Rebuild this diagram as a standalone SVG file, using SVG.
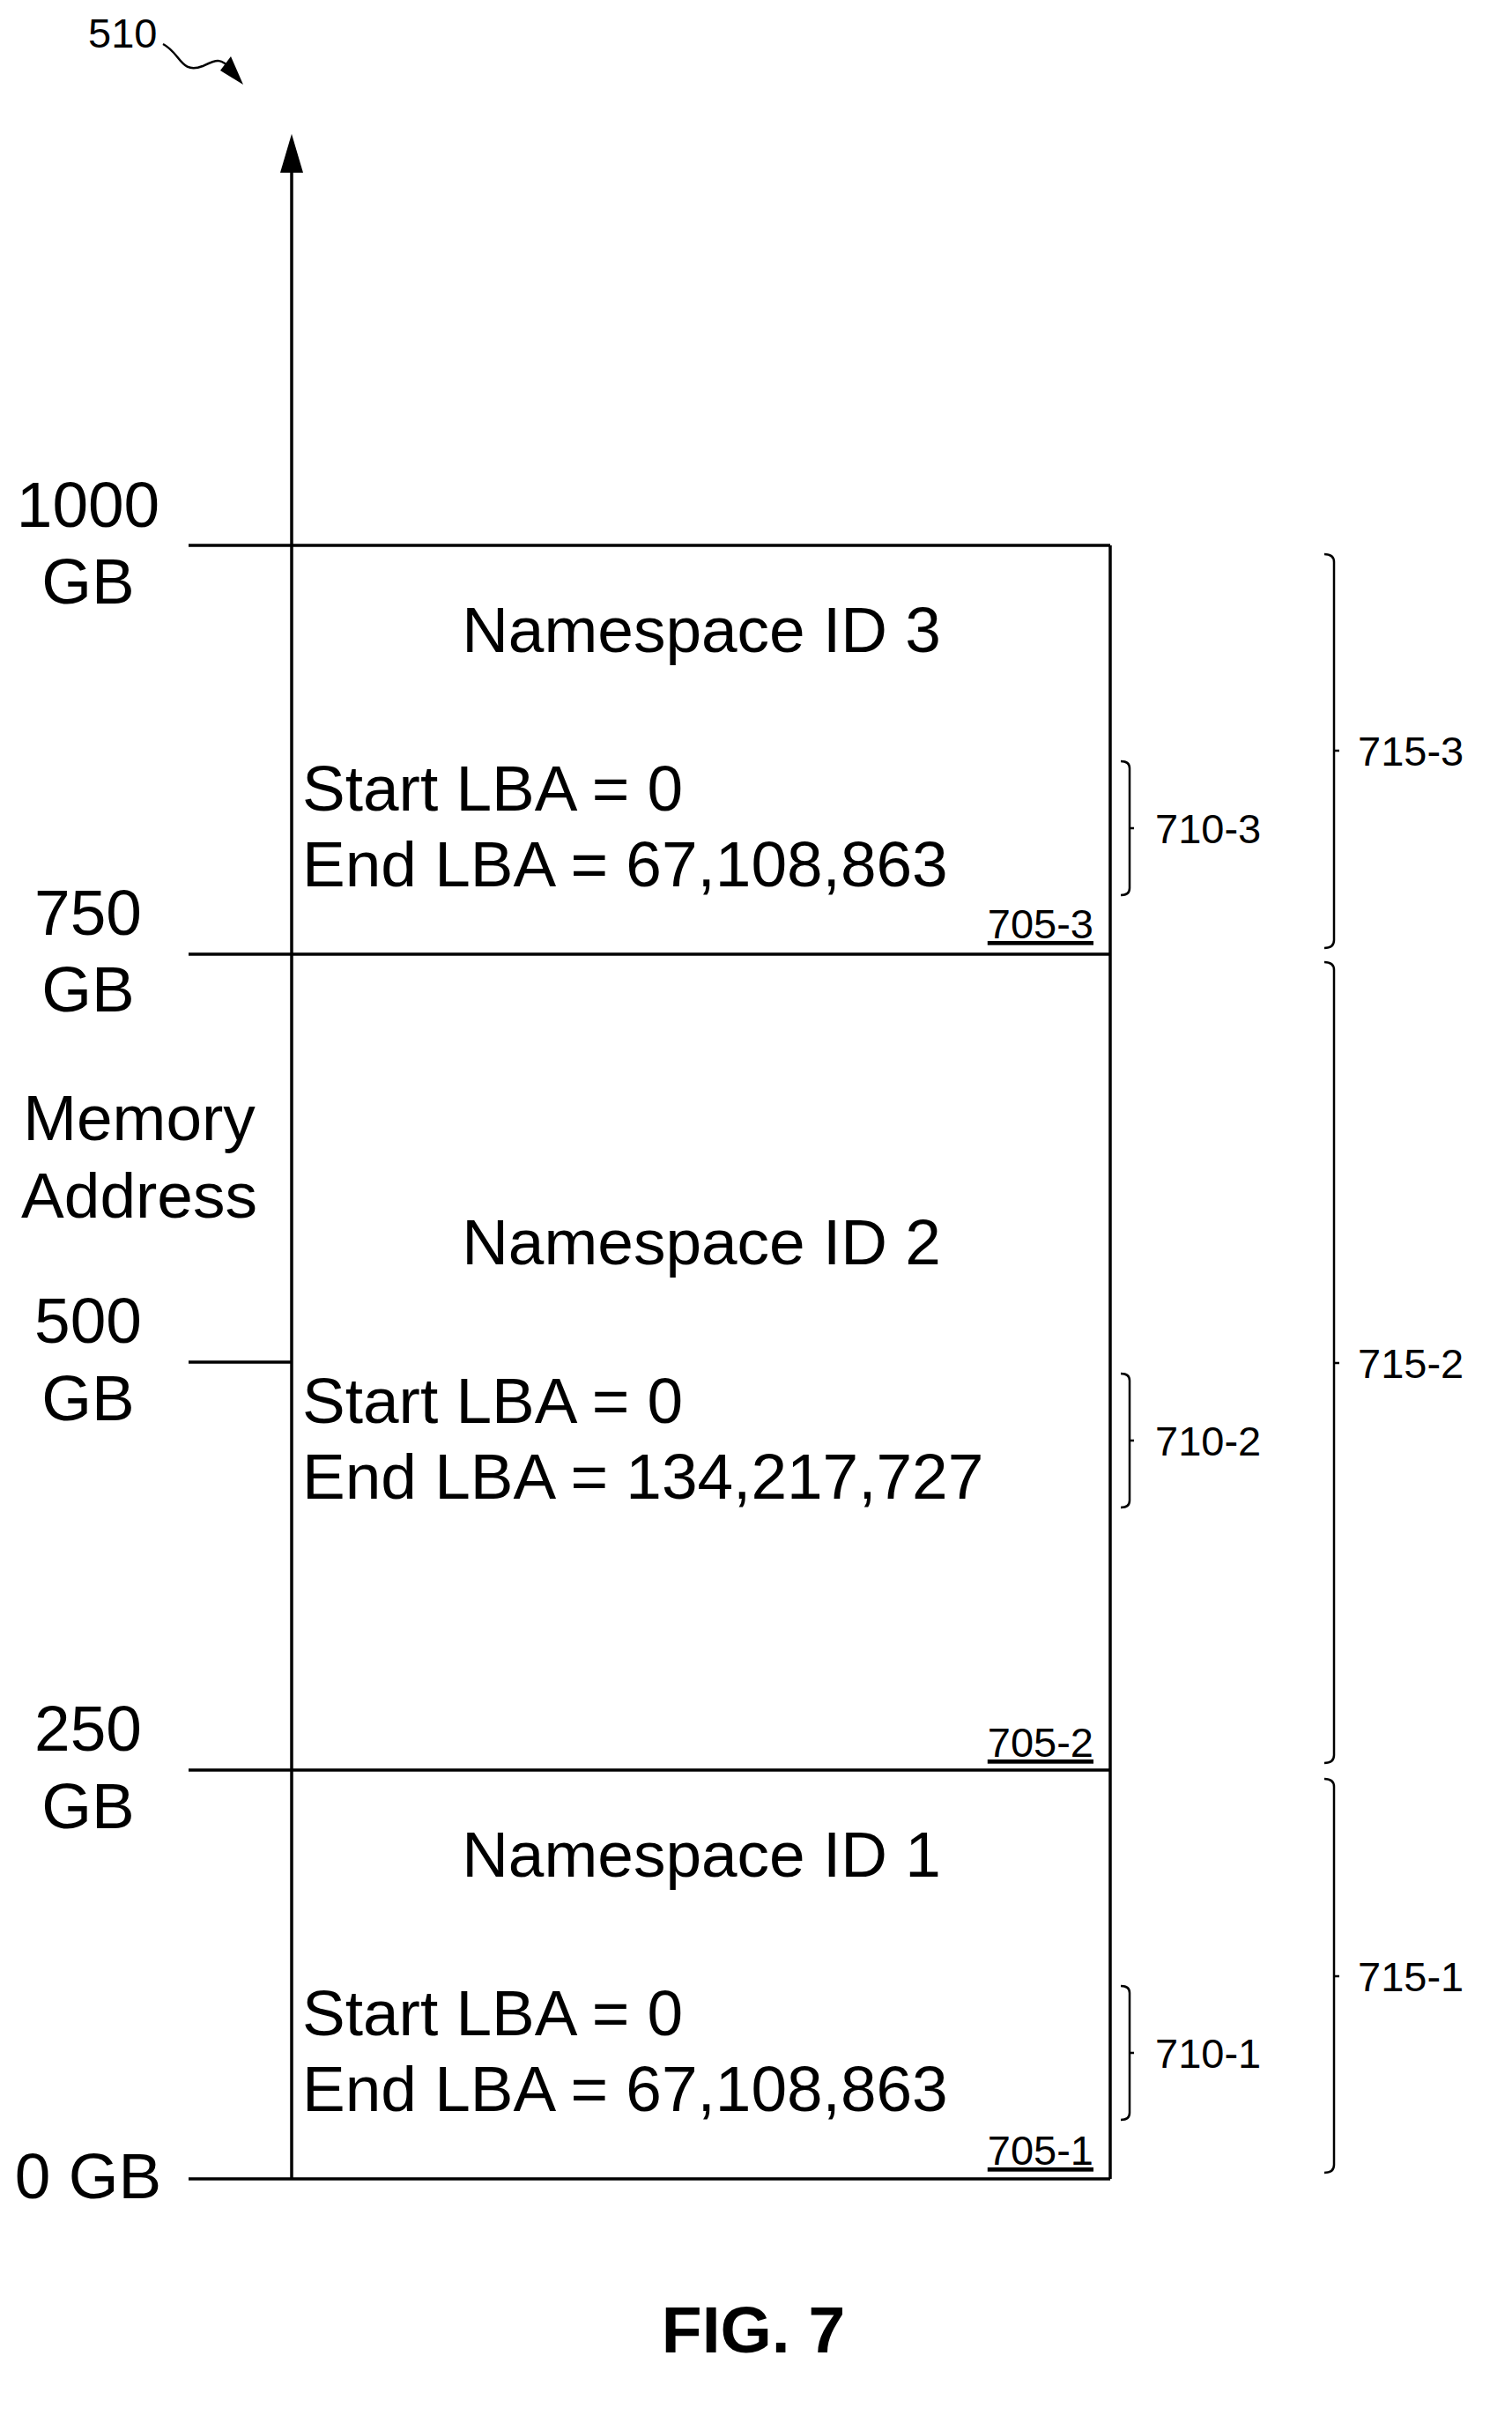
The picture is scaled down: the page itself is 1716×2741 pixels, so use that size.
<svg xmlns="http://www.w3.org/2000/svg" width="1716" height="2741" viewBox="0 0 1716 2741">
<defs>
<style>
text{font-family:"Liberation Sans",Arial,sans-serif;fill:#000}
.big{font-size:73px}
.sm{font-size:47px}
.ln{stroke:#000;stroke-width:3.5;fill:none}
.br{stroke:#000;stroke-width:2.5;fill:none}
</style>
</defs>
<rect width="1716" height="2741" fill="#fff"/>
<g id="ref510">
<text class="sm" x="100" y="54">510</text>
<path class="br" d="M185,50 C205,60 205,85 230,75 C245,68 250,65 262,78"/>
<path d="M262,64 L276,96 L250,80 Z" fill="#000"/>
</g>
<g id="connectors">
<line class="ln" x1="331" y1="2473" x2="331" y2="190"/>
<path d="M318,196 L331,152 L344,196 Z" fill="#000"/>
<line class="ln" x1="214" y1="619" x2="1260" y2="619"/>
<line class="ln" x1="214" y1="1083" x2="1260" y2="1083"/>
<line class="ln" x1="214" y1="1546" x2="331" y2="1546"/>
<line class="ln" x1="214" y1="2009" x2="1260" y2="2009"/>
<line class="ln" x1="214" y1="2473" x2="1260" y2="2473"/>
<line class="ln" x1="1260" y1="619" x2="1260" y2="2473"/>
</g>
<g id="axis-labels" text-anchor="middle">
<text class="big" x="100" y="598">1000</text><text class="big" x="100" y="685">GB</text>
<text class="big" x="100" y="1061">750</text><text class="big" x="100" y="1148">GB</text>
<text class="big" x="158" y="1294">Memory</text><text class="big" x="158" y="1382">Address</text>
<text class="big" x="100" y="1524">500</text><text class="big" x="100" y="1612">GB</text>
<text class="big" x="100" y="1987">250</text><text class="big" x="100" y="2075">GB</text>
<text class="big" x="100" y="2495">0 GB</text>
</g>
<g id="ns3">
<text class="big" x="796" y="740" text-anchor="middle">Namespace ID 3</text>
<text class="big" x="343" y="920">Start LBA = 0</text>
<text class="big" x="343" y="1006">End LBA = 67,108,863</text>
<text class="sm" x="1241" y="1065" text-anchor="end" text-decoration="underline">705-3</text>
</g>
<g id="ns2">
<text class="big" x="796" y="1435" text-anchor="middle">Namespace ID 2</text>
<text class="big" x="343" y="1615">Start LBA = 0</text>
<text class="big" x="343" y="1701">End LBA = 134,217,727</text>
<text class="sm" x="1241" y="1994" text-anchor="end" text-decoration="underline">705-2</text>
</g>
<g id="ns1">
<text class="big" x="796" y="2130" text-anchor="middle">Namespace ID 1</text>
<text class="big" x="343" y="2310">Start LBA = 0</text>
<text class="big" x="343" y="2396">End LBA = 67,108,863</text>
<text class="sm" x="1241" y="2457" text-anchor="end" text-decoration="underline">705-1</text>
</g>
<g id="brackets">
<path class="br" d="M1272,864 Q1282,864 1282,872 V1008 Q1282,1016 1272,1016 M1282,940 H1287"/>
<text class="sm" x="1311" y="957">710-3</text>
<path class="br" d="M1272,1559 Q1282,1559 1282,1567 V1703 Q1282,1711 1272,1711 M1282,1635 H1287"/>
<text class="sm" x="1311" y="1652">710-2</text>
<path class="br" d="M1272,2254 Q1282,2254 1282,2262 V2398 Q1282,2406 1272,2406 M1282,2330 H1287"/>
<text class="sm" x="1311" y="2347">710-1</text>
<path class="br" d="M1503,629 Q1514,629 1514,638 V1067 Q1514,1076 1503,1076 M1514,852 H1520"/>
<text class="sm" x="1541" y="869">715-3</text>
<path class="br" d="M1503,1092 Q1514,1092 1514,1101 V1992 Q1514,2001 1503,2001 M1514,1547 H1520"/>
<text class="sm" x="1541" y="1564">715-2</text>
<path class="br" d="M1503,2019 Q1514,2019 1514,2028 V2457 Q1514,2466 1503,2466 M1514,2243 H1520"/>
<text class="sm" x="1541" y="2260">715-1</text>
</g>
<text x="855" y="2670" text-anchor="middle" font-size="75" font-weight="bold">FIG. 7</text>
</svg>
